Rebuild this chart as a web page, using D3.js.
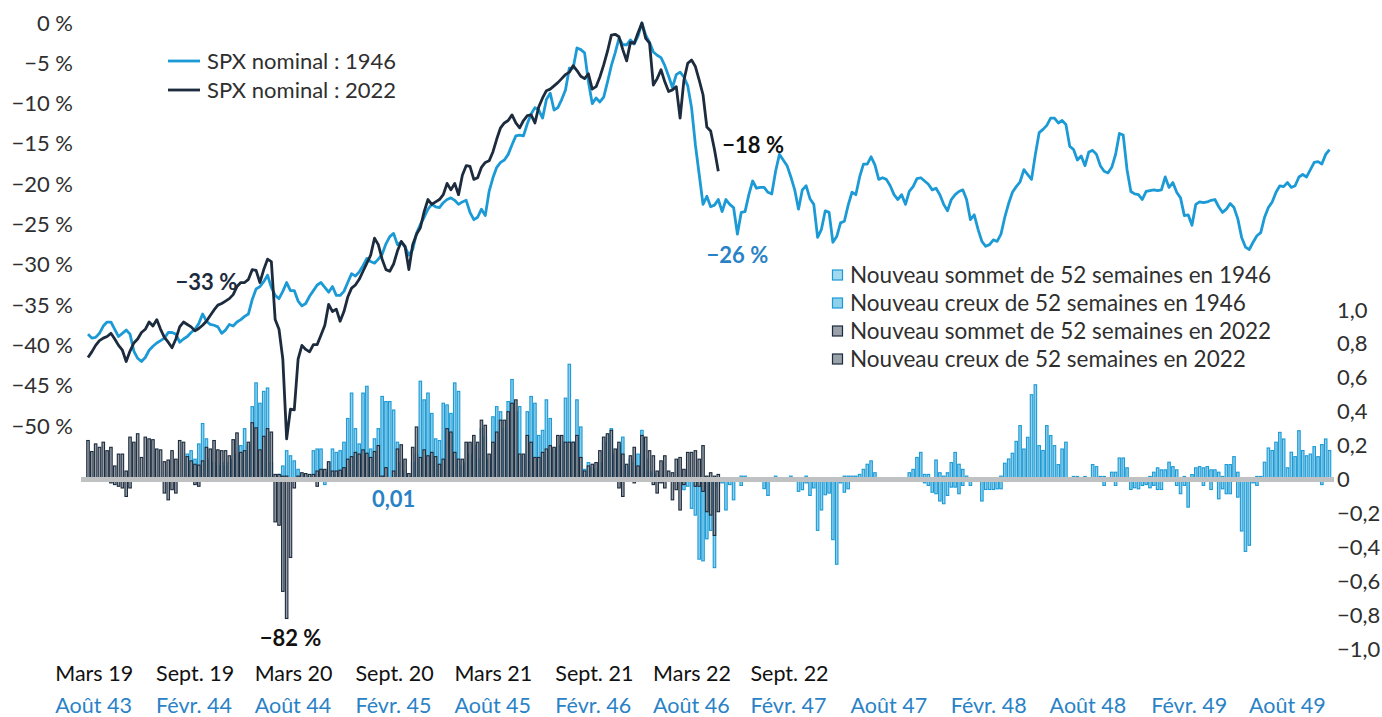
<!DOCTYPE html>
<html>
<head>
<meta charset="utf-8">
<script src="https://cdn.jsdelivr.net/npm/d3@7"></script>
<style>
  body { margin: 0; background: #fff; }
  svg text { font-family: Lato, "Open Sans", sans-serif; }
</style>
</head>
<body>
<div id="chart"></div>
<script>
// ---------- data (weekly, peaks aligned) ----------
// SPX drawdown from peak, % — 1946 episode (Aug 43 .. Oct 49)
const spx1946 = [
  -38.6,-39.1,-39.0,-38.5,-37.6,-37.1,-37.1,-38.0,-38.9,-38.5,
  -38.1,-38.6,-40.7,-41.6,-42.0,-41.5,-40.6,-40.1,-39.7,-39.4,
  -39.1,-38.4,-38.4,-38.6,-39.6,-39.2,-38.9,-38.4,-38.0,-37.3,
  -36.1,-37.0,-37.4,-37.5,-37.7,-38.5,-38.1,-37.4,-37.6,-37.1,
  -36.8,-36.4,-36.1,-34.3,-33.0,-32.7,-32.1,-31.3,-32.8,-33.8,
  -34.2,-33.3,-32.2,-33.2,-33.2,-34.5,-35.1,-34.8,-33.9,-33.2,
  -32.5,-32.2,-32.8,-33.4,-32.7,-33.8,-33.8,-33.3,-32.2,-31.1,
  -31.4,-30.9,-30.1,-29.2,-29.6,-29.8,-29.3,-28.7,-27.4,-26.5,
  -26.1,-27.5,-27.2,-27.8,-28.8,-28.1,-26.1,-25.0,-24.1,-23.1,
  -22.5,-22.8,-22.9,-22.3,-21.9,-21.7,-22.0,-22.5,-22.2,-22.0,
  -23.5,-24.4,-24.1,-23.1,-23.9,-20.9,-19.2,-17.9,-17.3,-17.0,
  -16.3,-15.1,-14.0,-13.9,-14.0,-12.5,-11.3,-10.5,-10.8,-11.8,
  -9.5,-8.7,-10.8,-10.5,-9.5,-8.3,-5.6,-5.6,-3.1,-3.3,
  -3.7,-7.3,-10.0,-9.3,-9.8,-9.2,-7.3,-5.3,-3.7,-1.9,
  -2.7,-2.7,-2.1,-2.6,-1.6,0,-1.5,-2.4,-3.6,-4.0,
  -4.3,-5.3,-6.6,-8.0,-6.4,-6.1,-6.7,-7.8,-10.5,-15.1,
  -18.8,-22.5,-21.5,-22.8,-22.6,-21.9,-23.4,-21.9,-22.5,-22.9,
  -26.2,-23.5,-23.4,-21.3,-19.6,-20.5,-20.4,-20.4,-21.0,-21.2,
  -18.4,-16.3,-17.0,-17.7,-19.1,-20.7,-23.1,-20.7,-20.2,-21.8,
  -22.5,-26.6,-25.6,-23.3,-23.5,-27.2,-26.5,-24.8,-24.6,-22.6,
  -21.0,-21.3,-19.1,-17.5,-17.5,-16.6,-17.6,-19.4,-19.2,-19.4,
  -20.2,-21.3,-21.9,-21.3,-22.5,-20.9,-20.3,-19.3,-19.2,-19.6,
  -20.0,-20.7,-20.5,-21.3,-22.5,-23.3,-21.9,-21.3,-20.9,-20.7,
  -21.9,-24.4,-23.8,-25.6,-27.1,-27.7,-27.5,-26.9,-27.1,-26.2,
  -24.1,-22.4,-21.0,-20.3,-19.7,-18.2,-18.8,-19.4,-16.3,-13.6,
  -13.2,-12.7,-11.8,-11.8,-12.4,-12.1,-12.6,-15.3,-15.7,-17.0,
  -16.5,-17.7,-16.0,-15.8,-16.3,-17.7,-18.4,-18.6,-17.9,-16.3,
  -13.7,-13.9,-18.2,-20.9,-21.2,-21.3,-21.9,-20.9,-20.8,-20.7,
  -20.8,-20.7,-19.1,-20.4,-19.8,-21.0,-21.7,-23.9,-23.8,-25.1,
  -22.5,-22.2,-22.3,-22.2,-22.0,-21.9,-22.8,-23.5,-23.1,-22.4,
  -22.9,-24.3,-26.6,-27.8,-28.1,-27.2,-26.4,-26.0,-24.1,-22.9,
  -22.2,-21.0,-20.2,-20.3,-19.8,-20.4,-20.2,-19.1,-18.8,-19.1,
  -18.2,-17.3,-17.2,-17.5,-16.3,-15.7
];

// SPX drawdown from peak, % — 2022 episode (Mar 19 .. 2022)
const spx2022 = [
  -41.5,-40.8,-40.0,-39.4,-39.1,-38.9,-38.5,-39.2,-40.0,-40.6,
  -42.0,-40.7,-39.7,-39.2,-38.4,-38.0,-37.1,-37.6,-36.8,-38.0,
  -39.0,-39.6,-40.3,-39.2,-37.7,-37.1,-37.4,-37.7,-38.2,-37.9,
  -37.5,-37.0,-36.3,-35.6,-35.0,-34.8,-34.5,-34.2,-33.7,-32.7,
  -32.2,-32.2,-31.8,-30.6,-30.7,-32.2,-30.6,-29.3,-29.6,-36.8,
  -38.0,-41.7,-51.6,-47.9,-48.0,-41.7,-40.0,-40.5,-40.8,-39.9,
  -39.9,-38.7,-37.5,-34.9,-35.8,-35.5,-37.0,-35.8,-34.0,-32.9,
  -32.5,-31.8,-30.8,-29.8,-28.8,-26.7,-27.5,-29.3,-30.6,-30.8,
  -29.9,-28.3,-27.1,-27.7,-30.6,-27.5,-26.2,-25.4,-23.4,-21.9,
  -22.5,-22.2,-21.9,-21.3,-19.9,-20.7,-19.9,-21.3,-18.9,-17.7,
  -17.8,-19.4,-19.2,-17.9,-17.3,-17.1,-16.0,-14.4,-13.0,-12.4,
  -12.1,-11.4,-12.4,-13.0,-12.1,-11.5,-11.4,-12.4,-10.4,-9.3,
  -8.4,-8.2,-7.8,-7.4,-6.9,-6.4,-6.1,-5.3,-5.9,-6.6,
  -6.9,-6.3,-8.2,-7.9,-6.7,-5.2,-3.5,-1.5,-1.4,-1.7,
  -3.3,-4.7,-2.4,-2.5,-1.2,0,-1.9,-2.5,-7.7,-6.9,
  -5.8,-7.3,-8.5,-8.3,-7.9,-11.8,-7.1,-5.0,-4.6,-5.4,
  -7.1,-8.9,-12.9,-13.4,-15.7,-18.4
];

// share of new 52-week highs (positive) and lows (negative), 1946
const hi1946 = [
  0,0,0,0,0,0,0,0,0,0,
  0,0,0,0,0,0,0,0,0,0,
  0,0,0,0,0,0,0.15,0.17,0.12,0.21,
  0.33,0.24,0.12,0.10,0.08,0.10,0.08,0.10,0.12,0.15,
  0.20,0.30,0.20,0.43,0.57,0.45,0.52,0.54,0.10,0,
  0.03,0.08,0.17,0.14,0.11,0.06,0.03,0.02,0.02,0.17,
  0.18,0.18,0.04,0.10,0.18,0.16,0.17,0.22,0.36,0.51,
  0.30,0.21,0.51,0.55,0.18,0.24,0.30,0.49,0.46,0.46,
  0.41,0.22,0.10,0.05,0.02,0.10,0.15,0.58,0.47,0.51,
  0.39,0.24,0.23,0.45,0.44,0.39,0.57,0.52,0.08,0.10,
  0.15,0.20,0.12,0.30,0.25,0.12,0.37,0.43,0.40,0.30,
  0.46,0.59,0.40,0.43,0.14,0.40,0.49,0.45,0.26,0.29,
  0.47,0.36,0.18,0.20,0.22,0.48,0.68,0.22,0.47,0.31,
  0.06,0.10,0.07,0.06,0.10,0.22,0.26,0.30,0.15,0.20,
  0.25,0.08,0.12,0.10,0.15,0.29,0.12,0.05,0.04,0.03,
  0.02,0,0,0,0,0,0,0,0,0,
  0,0,0,0,0,0,0,0,0,0,
  0,0.02,0.02,0,0,0,0,0,0,0,
  0.02,0,0,0,0.02,0.01,0.01,0,0.02,0.01,
  0,0,0,0,0,0,0,0,0.02,0.02,
  0.02,0.02,0.03,0.06,0.09,0.11,0.04,0.01,0.01,0,
  0,0.01,0,0,0.01,0.04,0.06,0.13,0.16,0.03,
  0.03,0,0.115,0.04,0.02,0.04,0.10,0.16,0.09,0.06,
  0.02,0,0,0,0,0.01,0.01,0.01,0,0.02,
  0.096,0.121,0.155,0.225,0.318,0.18,0.249,0.50,0.559,0.20,
  0.171,0.318,0.259,0.20,0.088,0.18,0.22,0,0.018,0.018,
  0,0.018,0.01,0.088,0.076,0.018,0.018,0.01,0.043,0.043,
  0.127,0.127,0.069,0,0,0,0,0.01,0.018,0.043,
  0.069,0.057,0.057,0.102,0.076,0.057,0,0.018,0,0.029,
  0.069,0.076,0.069,0.076,0.057,0.057,0.043,0.018,0.088,0.088,
  0.135,0.043,0,0,0,0.01,0.018,0.018,0.102,0.186,
  0.171,0.22,0.278,0.239,0.069,0.161,0.135,0.288,0.171,0.14,
  0.15,0.194,0.135,0.206,0.239,0.171
];
const lo1946 = [
  0,0,0,0,0,0,0,0,0,0,
  0,0,0,0,-0.01,0,0,0,0,0,
  0,0,0,0,0,0,0,0,0,0,
  0,0,0,0,0,0,0,0,0,0,
  0,0,0,0,0,0,0,0,0,0,
  0,0,0,0,0,0,0,0,0,0,
  0,0,-0.03,0,0,0,0,0,0,0,
  0,0,0,0,0,0,0,0,0,0,
  0,0,0,0,0,0,0,0,0,0,
  0,0,0,0,0,0,0,0,0,0,
  0,0,0,0,0,0,0,0,0,0,
  0,0,0,0,0,0,0,0,0,0,
  0,0,0,0,0,0,0,0,0,0,
  0,0,0,0,0,0,0,0,0,0,
  0,0,0,0,0,0,0,0,0,0,
  0,0,0,0,0,0,-0.06,-0.04,-0.17,-0.21,
  -0.47,-0.48,-0.35,-0.30,-0.52,-0.04,-0.02,-0.18,-0.03,-0.12,
  0,-0.035,0,-0.01,0,0,0,-0.054,-0.094,0,
  0,0,0,0,0,0,-0.07,-0.06,-0.02,-0.094,
  -0.05,-0.30,-0.18,-0.09,-0.08,-0.355,-0.50,-0.02,-0.075,-0.055,
  0,0,0,0,0,0,0,-0.01,0,0,
  0,0,0,0,0,0,0,0,0,-0.02,
  -0.035,-0.075,-0.084,-0.127,-0.143,-0.094,-0.045,-0.045,-0.084,-0.035,
  0,-0.035,0,0,-0.127,-0.059,-0.059,-0.059,-0.055,-0.055,
  0,0,0,0,0,0,0,0,0,0,
  0,0,0,0,0,0,0,-0.01,0,0,
  0,0,0,0,0,0,-0.035,0,0,-0.035,
  0,0,0,-0.059,-0.049,-0.055,-0.035,-0.03,-0.049,-0.035,
  -0.059,-0.059,0,0,0,-0.035,-0.084,-0.035,-0.163,0,
  0,0,-0.035,0,-0.059,0,-0.114,-0.055,-0.084,-0.084,
  0,-0.104,-0.304,-0.424,-0.388,-0.02,-0.035,0,0,0,
  0,0,0,0,0,0,0,0,0,0,
  0,0,0,-0.03,0,0
];

// share of new 52-week highs / lows, 2022
const hi2022 = [
  0.23,0.165,0.21,0.19,0.22,0.17,0.19,0.08,0.15,0.15,
  0.05,0.25,0.22,0.27,0.13,0.25,0.24,0.235,0.18,0.175,
  0.105,0.115,0.17,0.12,0.23,0.22,0.135,0.11,0.09,0.085,
  0.11,0.19,0.18,0.23,0.175,0.17,0.17,0.14,0.235,0.275,
  0.16,0.17,0.22,0.335,0.305,0.175,0.255,0.30,0.28,0.03,
  0.03,0.02,0.02,0.005,0.005,0.02,0.04,0.035,0.03,0.03,
  0.05,0.06,0.06,0.105,0.05,0.05,0.055,0.07,0.12,0.135,
  0.16,0.15,0.175,0.155,0.13,0.165,0.20,0.02,0.07,0.01,
  0.05,0.18,0.205,0.12,0.035,0.19,0.31,0.13,0.175,0.14,
  0.16,0.135,0.09,0.12,0.30,0.28,0.16,0.12,0.12,0.22,
  0.22,0.26,0.22,0.35,0.32,0.15,0.22,0.28,0.35,0.35,
  0.40,0.45,0.47,0.15,0.15,0.26,0.22,0.13,0.13,0.16,
  0.18,0.20,0.19,0.26,0.26,0.22,0.22,0.22,0.26,0.13,
  0.05,0.08,0.09,0.10,0.17,0.25,0.27,0.29,0.18,0.22,
  0.15,0.09,0.14,0.19,0.08,0.26,0.25,0.17,0.14,0.05,
  0.11,0.14,0.05,0.04,0.12,0.13,0.06,0.16,0.16,0.17,
  0.12,0.20,0.02,0.04,0.02,0.03
];
const lo2022 = [
  0,0,0,0,0,0,-0.02,-0.03,-0.04,-0.05,
  -0.10,-0.05,0,0,0,0,0,0,0,0,
  -0.08,-0.12,-0.06,-0.08,0,0,0,0,-0.03,-0.04,
  0,0,0,0,0,0,0,0,0,0,
  0,0,0,0,0,-0.01,0,0,0,-0.25,
  -0.27,-0.66,-0.82,-0.46,-0.05,0,0,0,0,0,
  -0.04,0,0,0,0,0,0,0,0,0,
  0,0,0,0,0,0,0,0,0,0,
  0,0,0,0,0,0,0,0,0,0,
  0,0,0,0,0,0,0,0,0,0,
  0,0,0,0,0,0,0,0,0,0,
  0,0,0,0,0,0,0,0,0,0,
  0,0,0,0,0,0,0,0,0,0,
  0,0,-0.01,0,0,0,0,0,0,-0.05,
  -0.10,0,0,-0.02,0,0,0,0,-0.03,-0.08,
  -0.02,-0.05,0,-0.12,-0.06,-0.18,-0.03,0,0,-0.04,
  -0.04,-0.07,-0.19,-0.21,-0.33,-0.19
];

// x labels: week positions (same for both rows), 1946 row and 2022 row
const tickWeeks = [-8.7, 17.7, 43.5, 69.9, 95.8, 122.2, 147.8, 173.3, 199.5, 225.7, 251.6, 278.2, 303.8];
const labels1946 = ["Août 43", "Févr. 44", "Août 44", "Févr. 45", "Août 45", "Févr. 46", "Août 46",
                    "Févr. 47", "Août 47", "Févr. 48", "Août 48", "Févr. 49", "Août 49"];
const labels2022 = ["Mars 19", "Sept. 19", "Mars 20", "Sept. 20", "Mars 21", "Sept. 21", "Mars 22", "Sept. 22"];

const leftTicks = [0, -5, -10, -15, -20, -25, -30, -35, -40, -45, -50];
const rightTicks = [1, 0.8, 0.6, 0.4, 0.2, 0, -0.2, -0.4, -0.6, -0.8, -1];

// ---------- colours ----------
const BLUE = "#1b9ad6";
const BLUE_FILL = "#8fd0ea";
const NAVY = "#1c2b3d";
const GREY_FILL = "#9aa1a9";
const TEXT = "#2f2f2f";
const LABEL_BLUE = "#2a82c6";

// ---------- svg ----------
const W = 1382, H = 717;
const svg = d3.select("#chart").append("svg")
  .attr("width", W).attr("height", H);

const x = d3.scaleLinear().domain([0, spx1946.length - 1]).range([88, 1329.5]);
const yL = d3.scaleLinear().domain([-50, 0]).range([426, 23]);
const yR = d3.scaleLinear().domain([-1, 1]).range([649, 310]);

// ---------- axes ----------
const minus = s => s.replace("-", "\u2212");

const axL = svg.append("g")
  .attr("transform", "translate(73,0)")
  .call(d3.axisLeft(yL).tickValues(leftTicks).tickSize(0).tickPadding(0)
    .tickFormat(d => minus(String(d)) + " %"));
axL.select(".domain").remove();
axL.selectAll("text").attr("fill", TEXT).style("font-size", "22px");

const axR = svg.append("g")
  .attr("transform", "translate(1337,0)")
  .call(d3.axisRight(yR).tickValues(rightTicks).tickSize(0).tickPadding(0)
    .tickFormat(d => d === 0 ? "0" : minus(d.toFixed(1).replace(".", ","))));
axR.select(".domain").remove();
axR.selectAll("text").attr("fill", TEXT).style("font-size", "22px");

function dateAxis(labels, yPos, color) {
  const g = svg.append("g")
    .attr("transform", `translate(0,${yPos})`)
    .call(d3.axisBottom(x).tickValues(tickWeeks.slice(0, labels.length)).tickSize(0)
      .tickFormat((d, i) => labels[i]));
  g.select(".domain").remove();
  g.selectAll("text")
    .attr("y", 0).attr("dy", 0)
    .attr("text-anchor", "start")
    .attr("fill", color)
    .style("font-size", "21.5px");
}
dateAxis(labels2022, 681, "#111");
dateAxis(labels1946, 713, LABEL_BLUE);

// ---------- bars ----------
const BW = 2.5;
const barsG = svg.append("g");

function drawBars(vals, fill, stroke) {
  barsG.append("g")
    .selectAll("rect")
    .data(vals.map((v, i) => ({ i, v })).filter(d => d.v !== 0))
    .join("rect")
    .attr("x", d => x(d.i) - BW / 2)
    .attr("width", BW)
    .attr("y", d => yR(Math.max(0, d.v)))
    .attr("height", d => Math.abs(yR(d.v) - yR(0)))
    .attr("fill", fill)
    .attr("stroke", stroke)
    .attr("stroke-width", 1.1);
}
drawBars(hi1946, BLUE_FILL, BLUE);
drawBars(lo1946, BLUE_FILL, BLUE);
drawBars(hi2022, GREY_FILL, NAVY);
drawBars(lo2022, GREY_FILL, NAVY);

// zero line
svg.append("line")
  .attr("x1", 81).attr("x2", 1334)
  .attr("y1", yR(0)).attr("y2", yR(0))
  .attr("stroke", "#bfc1c3").attr("stroke-width", 5);

// ---------- lines ----------
const line = d3.line().x((d, i) => x(i)).y(d => yL(d));

svg.append("path").datum(spx1946)
  .attr("d", line).attr("fill", "none")
  .attr("stroke", BLUE).attr("stroke-width", 2.8)
  .attr("stroke-linejoin", "round");

svg.append("path").datum(spx2022)
  .attr("d", line).attr("fill", "none")
  .attr("stroke", NAVY).attr("stroke-width", 2.8)
  .attr("stroke-linejoin", "round");

// ---------- annotations ----------
function note(txt, px, py, color, anchor) {
  svg.append("text")
    .attr("x", px).attr("y", py)
    .attr("text-anchor", anchor || "middle")
    .attr("fill", color)
    .style("font-size", "22px").style("font-weight", 700)
    .text(txt);
}
note("\u221233 %", x(31), yL(-32.2) + 7, NAVY);
note("\u221218 %", x(165) + 4, yL(-15.2) + 7, "#111", "start");
note("\u221226 %", x(170), yL(-26.2) + 29, LABEL_BLUE);
note("0,01", x(80), yR(0) + 27, LABEL_BLUE);
note("\u221282 %", x(53), yR(-0.82) + 28, "#111");

// ---------- legends ----------
const legTop = [
  { name: "SPX nominal : 1946", color: BLUE },
  { name: "SPX nominal : 2022", color: NAVY }
];
const lt = svg.append("g").selectAll("g").data(legTop).join("g")
  .attr("transform", (d, i) => `translate(168,${61 + i * 29})`);
lt.append("line").attr("x1", 0).attr("x2", 32)
  .attr("stroke", d => d.color).attr("stroke-width", 2.8);
lt.append("text").attr("x", 39).attr("y", 7.5)
  .attr("fill", TEXT).style("font-size", "22px")
  .text(d => d.name);

const legBars = [
  { name: "Nouveau sommet de 52 semaines en 1946", fill: "#a3d9ef", stroke: BLUE },
  { name: "Nouveau creux de 52 semaines en 1946", fill: BLUE_FILL, stroke: BLUE },
  { name: "Nouveau sommet de 52 semaines en 2022", fill: GREY_FILL, stroke: NAVY },
  { name: "Nouveau creux de 52 semaines en 2022", fill: GREY_FILL, stroke: NAVY }
];
const lb = svg.append("g").selectAll("g").data(legBars).join("g")
  .attr("transform", (d, i) => `translate(832,${275 + i * 28})`);
lb.append("rect").attr("x", 0.5).attr("y", -5).attr("width", 10).attr("height", 10)
  .attr("fill", d => d.fill).attr("stroke", d => d.stroke).attr("stroke-width", 1.2);
lb.append("text").attr("x", 18).attr("y", 7.5)
  .attr("fill", TEXT).style("font-size", "22.5px")
  .text(d => d.name);
</script>
</body>
</html>
